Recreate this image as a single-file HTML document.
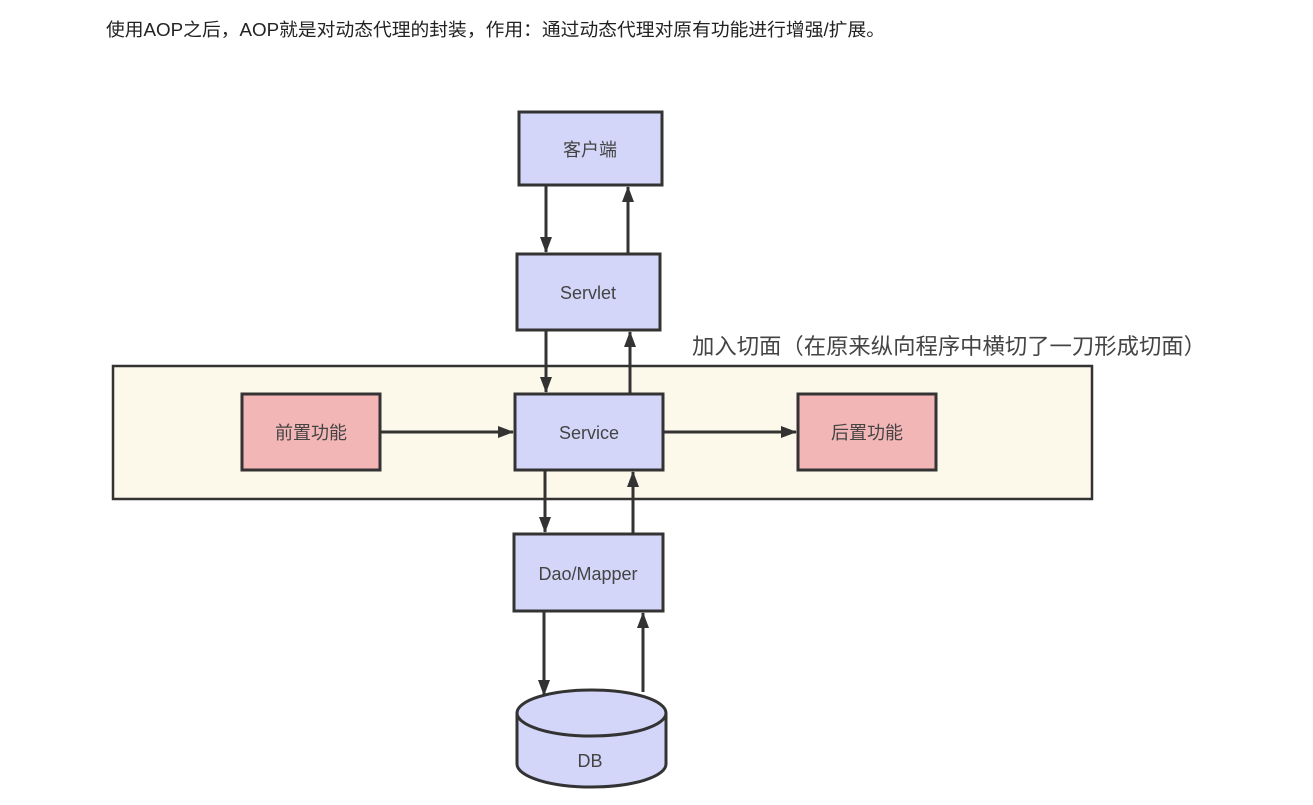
<!DOCTYPE html>
<html><head><meta charset="utf-8"><style>
body{margin:0;background:#fff;width:1313px;height:800px;overflow:hidden;}
svg text{font-family:"Liberation Sans","Noto Sans CJK SC",sans-serif;}
</style></head><body>
<svg width="1313" height="800" xmlns="http://www.w3.org/2000/svg">
<defs>
<marker id="b" viewBox="0 0 16 12" markerWidth="16" markerHeight="12" refX="15" refY="6" orient="auto" markerUnits="userSpaceOnUse"><path d="M0,0 L16,6 L0,12 z" fill="#333"/></marker></defs>
<text x="106" y="36" font-size="18" fill="#222" textLength="779" lengthAdjust="spacingAndGlyphs">使用AOP之后，AOP就是对动态代理的封装，作用：通过动态代理对原有功能进行增强/扩展。</text>
<rect x="113" y="366" width="979" height="133" fill="#fcf8ea" stroke="#333" stroke-width="2.5"/>
<text x="692" y="354" font-size="22" fill="#444" textLength="514" lengthAdjust="spacingAndGlyphs">加入切面（在原来纵向程序中横切了一刀形成切面）</text>
<g stroke="#333" stroke-width="3" fill="#d3d6f8">
<rect x="519" y="112" width="143" height="73"/>
<rect x="517" y="254" width="143" height="76"/>
<rect x="515" y="394" width="148" height="76"/>
<rect x="514" y="534" width="149" height="77"/>
<rect x="242" y="394" width="138" height="76" fill="#f2b6b6"/>
<rect x="798" y="394" width="138" height="76" fill="#f2b6b6"/>
<path d="M517,713 L517,764 A74.5,23 0 0 0 666,764 L666,713"/>
<ellipse cx="591.5" cy="713" rx="74.5" ry="23"/>
</g>
<g stroke="#333" stroke-width="3" marker-end="url(#b)">
<line x1="546" y1="185" x2="546" y2="252"/>
<line x1="628" y1="254" x2="628" y2="187"/>
<line x1="546" y1="330" x2="546" y2="392"/>
<line x1="630" y1="394" x2="630" y2="332"/>
<line x1="545" y1="470" x2="545" y2="532"/>
<line x1="633" y1="534" x2="633" y2="472"/>
<line x1="544" y1="611" x2="544" y2="695"/>
<line x1="643" y1="692" x2="643" y2="613"/>
<line x1="380" y1="432" x2="513" y2="432"/>
<line x1="663" y1="432" x2="796" y2="432"/>
</g>
<g font-size="18" fill="#444" text-anchor="middle">
<text x="590" y="156">客户端</text>
<text x="588" y="299">Servlet</text>
<text x="589" y="439">Service</text>
<text x="588" y="580">Dao/Mapper</text>
<text x="311" y="439">前置功能</text>
<text x="867" y="439">后置功能</text>
<text x="590" y="767">DB</text>
</g>
</svg>
</body></html>
